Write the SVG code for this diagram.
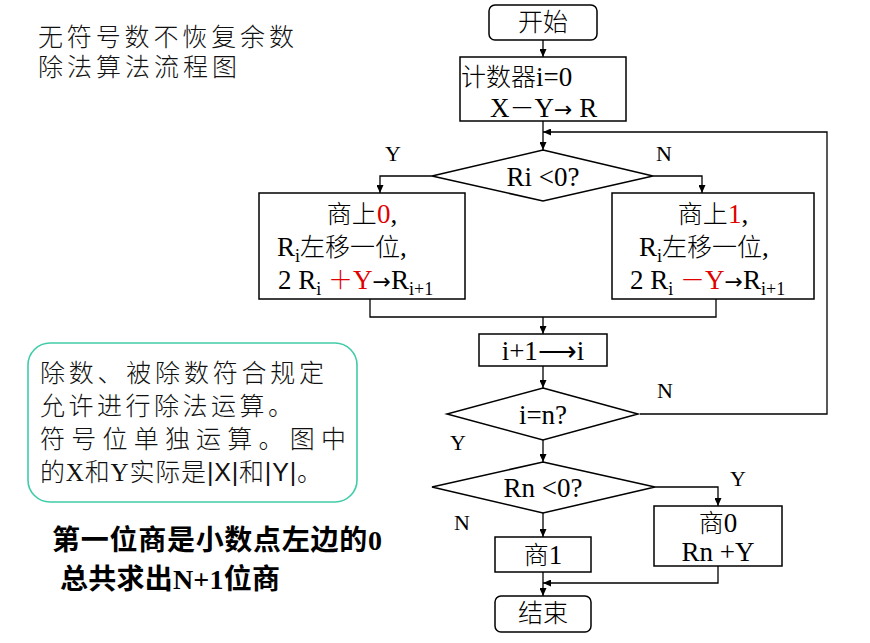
<svg xmlns="http://www.w3.org/2000/svg" width="870" height="643" viewBox="0 0 870 643">
<style>
.ln{fill:none;stroke:#000;stroke-width:1.3}
.bx{fill:#fff;stroke:#000;stroke-width:1.5}
.t{font-family:"Liberation Serif","Noto Sans CJK SC",serif;font-size:27px;fill:#000}
.c{font-family:"Noto Sans CJK SC",sans-serif;font-size:25px;font-weight:300}
.ar{font-family:"DejaVu Sans",sans-serif;font-size:22px}
.lb{font-family:"Liberation Serif",serif;font-size:22px;fill:#000}
.s{font-size:18px}
.red{fill:#e00000}
.cn{font-family:"Noto Sans CJK SC","Liberation Sans",sans-serif;font-size:25px;font-weight:300;fill:#111}
.bd{font-family:"Liberation Serif","Noto Sans CJK SC",serif;font-size:28px;font-weight:bold;fill:#000}
</style>
<defs>
<marker id="ah" markerUnits="userSpaceOnUse" markerWidth="8" markerHeight="7" refX="8" refY="3.5" orient="auto">
<path d="M0,0 L8,3.5 L0,7 z" fill="#000"/>
</marker>
</defs>
<rect width="870" height="643" fill="#fff"/>

<g id="title">
<text class="cn" x="38" y="46" textLength="256">无符号数不恢复余数</text>
<text class="cn" x="38" y="76" textLength="199">除法算法流程图</text>
</g>

<g id="connectors">
<path class="ln" d="M543,40 V57" marker-end="url(#ah)"/>
<path class="ln" d="M543,121 V150" marker-end="url(#ah)"/>
<path class="ln" d="M640,414 H827 V132 H543" marker-end="url(#ah)"/>
<path class="ln" d="M432,176 H380 V193" marker-end="url(#ah)"/>
<path class="ln" d="M653,176 H702 V193" marker-end="url(#ah)"/>
<path class="ln" d="M370,299 V317 H716 V299"/>
<path class="ln" d="M543,317 V334" marker-end="url(#ah)"/>
<path class="ln" d="M543,366 V388" marker-end="url(#ah)"/>
<path class="ln" d="M543,440 V462" marker-end="url(#ah)"/>
<path class="ln" d="M655,487 H718 V506" marker-end="url(#ah)"/>
<path class="ln" d="M543,513 V537" marker-end="url(#ah)"/>
<path class="ln" d="M543,572 V596" marker-end="url(#ah)"/>
<path class="ln" d="M718,566 V583 H543" marker-end="url(#ah)"/>
<text class="lb" x="393" y="161" text-anchor="middle">Y</text>
<text class="lb" x="664" y="161" text-anchor="middle">N</text>
<text class="lb" x="665" y="398" text-anchor="middle">N</text>
<text class="lb" x="458" y="450" text-anchor="middle">Y</text>
<text class="lb" x="738" y="486" text-anchor="middle">Y</text>
<text class="lb" x="462" y="530" text-anchor="middle">N</text>
</g>

<g id="start">
<rect class="bx" x="489" y="5" width="108" height="35" rx="6"/>
<text class="t" x="543" y="31" text-anchor="middle"><tspan class="c" font-size="23">开始</tspan></text>
</g>

<g id="init">
<rect class="bx" x="460" y="57" width="166" height="64"/>
<text class="t" x="461" y="86"><tspan class="c" font-size="23">计数器</tspan>i=0</text>
<text class="t" x="490" y="117">X<tspan class="c">－</tspan>Y<tspan class="ar">→</tspan> R</text>
</g>

<g id="cond1">
<polygon class="bx" points="543,150 653,176 543,201 432,176"/>
<text class="t" x="543" y="186" text-anchor="middle">Ri &lt;0?</text>
</g>

<g id="left">
<rect class="bx" x="259" y="193" width="206" height="106"/>
<text class="t" x="362" y="223" text-anchor="middle"><tspan class="c">商上</tspan><tspan class="red">0</tspan>,</text>
<text class="t" x="277" y="256">R<tspan class="s" dy="6">i</tspan><tspan dy="-6" class="c">左移一位</tspan>,</text>
<text class="t" x="278" y="289">2  R<tspan class="s" dy="6">i</tspan><tspan dy="-6" class="red"> <tspan class="c">＋</tspan>Y</tspan><tspan class="ar">→</tspan>R<tspan class="s" dy="6">i+1</tspan></text>
</g>

<g id="right">
<rect class="bx" x="612" y="193" width="202" height="106"/>
<text class="t" x="713" y="223" text-anchor="middle"><tspan class="c">商上</tspan><tspan class="red">1</tspan>,</text>
<text class="t" x="639" y="256">R<tspan class="s" dy="6">i</tspan><tspan dy="-6" class="c">左移一位</tspan>,</text>
<text class="t" x="630" y="289">2  R<tspan class="s" dy="6">i</tspan><tspan dy="-6" class="red"> <tspan class="c">－</tspan>Y</tspan><tspan class="ar">→</tspan>R<tspan class="s" dy="6">i+1</tspan></text>
</g>

<g id="inc">
<rect class="bx" x="479" y="334" width="128" height="32"/>
<text class="t" x="543" y="360" text-anchor="middle">i+1⟶i</text>
</g>

<g id="cond2">
<polygon class="bx" points="543,388 638,414 543,440 447,414"/>
<text class="t" x="543" y="424" text-anchor="middle">i=n?</text>
</g>

<g id="cond3">
<polygon class="bx" points="543,462 655,487 543,513 432,487"/>
<text class="t" x="543" y="497" text-anchor="middle">Rn &lt;0?</text>
</g>

<g id="q1">
<rect class="bx" x="495" y="537" width="96" height="35"/>
<text class="t" x="543" y="564" text-anchor="middle"><tspan class="c">商</tspan>1</text>
</g>

<g id="q0">
<rect class="bx" x="654" y="506" width="128" height="60"/>
<text class="t" x="718" y="532" text-anchor="middle"><tspan class="c">商</tspan>0</text>
<text class="t" x="718" y="561" text-anchor="middle">Rn +Y</text>
</g>

<g id="end">
<rect class="bx" x="495" y="596" width="96" height="36" rx="6"/>
<text class="t" x="543" y="622" text-anchor="middle"><tspan class="c" font-size="23">结束</tspan></text>
</g>

<g id="note">
<rect x="28" y="343" width="329" height="159" rx="22" fill="#fff" stroke="#40cca8" stroke-width="1.6"/>
<text class="cn" x="40" y="382" textLength="284">除数、被除数符合规定</text>
<text class="cn" x="40" y="415" textLength="253">允许进行除法运算。</text>
<text class="cn" x="40" y="448" textLength="306">符号位单独运算。图中</text>
<text class="cn" x="40" y="481" textLength="282">的<tspan font-family="Liberation Serif">X</tspan>和<tspan font-family="Liberation Serif">Y</tspan>实际是<tspan font-family="Liberation Sans">|X|</tspan>和<tspan font-family="Liberation Sans">|Y|</tspan>。</text>
</g>

<g id="notes2">
<text class="bd" x="52" y="550" textLength="330">第一位商是小数点左边的0</text>
<text class="bd" x="60" y="589" textLength="220">总共求出N+1位商</text>
</g>
</svg>
